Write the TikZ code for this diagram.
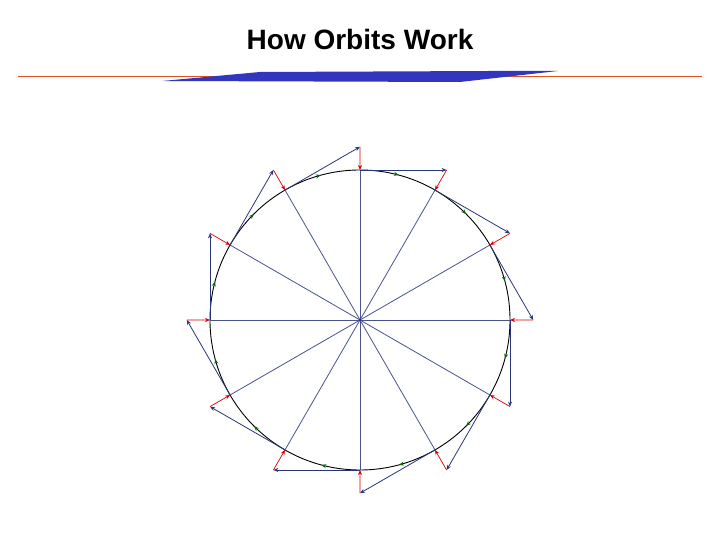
\documentclass[tikz,border=0pt]{standalone}
\usepackage{fontspec}
\setmainfont{Liberation Sans}
\usetikzlibrary{calc,decorations.markings,arrows.meta}
\definecolor{navy}{HTML}{28357A}
\definecolor{wedgeblue}{HTML}{3236BE}
\definecolor{ruleorange}{RGB}{225,80,30}
\tikzset{radial/.style={navy!85,line width=0.8pt},
 vel/.style={navy,line width=0.8pt,-{Stealth[length=5pt,width=4pt]}},
 acc/.style={red!85!black,line width=0.7pt,-{Stealth[length=5pt,width=4pt]}}}
\begin{document}
\begin{tikzpicture}[x=1pt,y=1pt]
\useasboundingbox (0,0) rectangle (720,540);
\node[font=\bfseries\fontsize{28}{32}\selectfont] (title) at (360,500) {How Orbits Work};
\fill[ruleorange] (18,462.5) rectangle (702,463.7);
\fill[wedgeblue] (162,459) -- (260,468) -- (490,469) -- (558,469) -- (460,458) -- cycle;
\coordinate (C) at (360,220);
\draw[black,line width=0.9pt,postaction={decorate},decoration={markings,
  mark=between positions 0.0417 and 1 step 0.0833 with {\arrow{Stealth[length=5pt,width=4pt,color=green!40!black]}}}]
  (360,370) arc[start angle=90,end angle=-270,radius=150];
\foreach \a in {0,30,...,330}{
  \coordinate (P\a) at ($(C)+(\a:150)$);
  \coordinate (T\a) at ($(P\a)+({86.6*sin(\a)},{-86.6*cos(\a)})$);
}
\foreach \a in {0,30,...,330}{
  \draw[radial] (C) -- (P\a);
  \draw[vel] (P\a) -- (T\a);
  \pgfmathtruncatemacro{\b}{mod(\a+330,360)}
  \draw[acc] (T\a) -- (P\b);
}
\fill[navy] (C) circle (1.5pt);
\end{tikzpicture}
\end{document}
